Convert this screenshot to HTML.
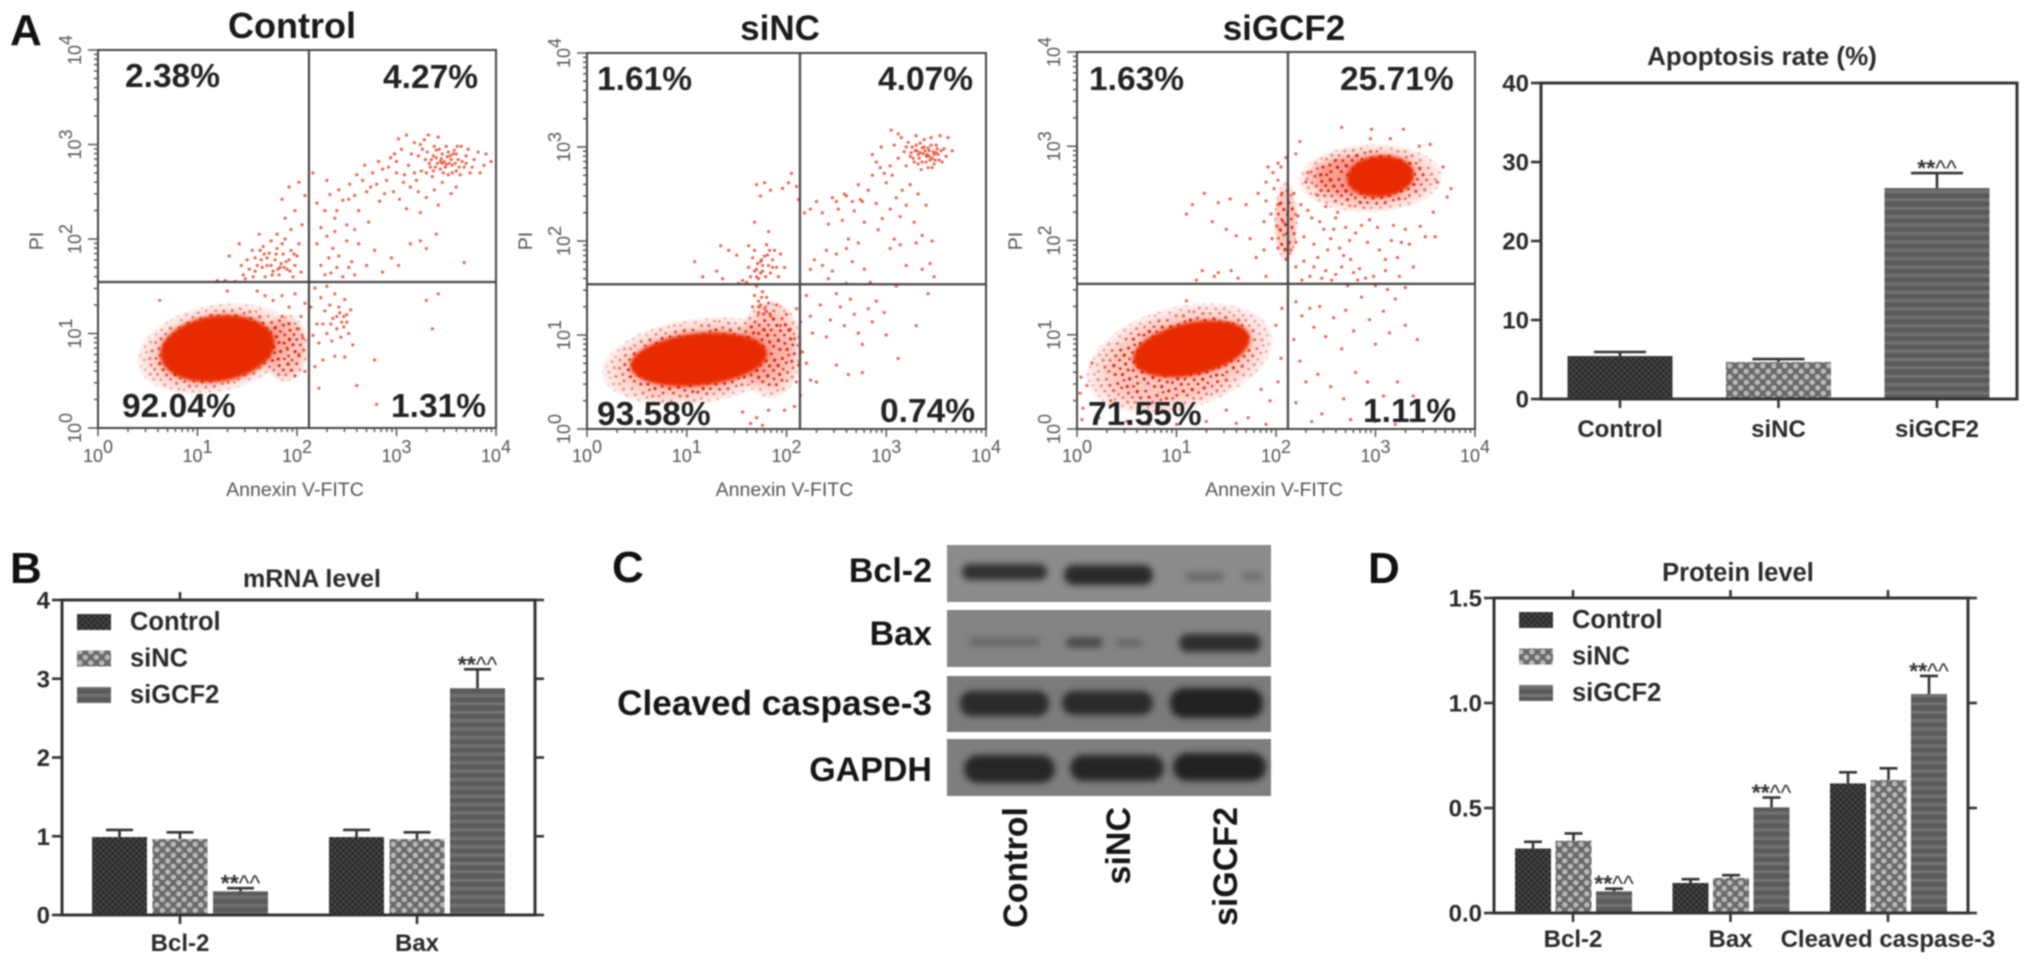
<!DOCTYPE html>
<html lang="en">
<head>
<meta charset="utf-8">
<title>GCF2 apoptosis figure</title>
<style>
html,body{margin:0;padding:0;background:#fff;width:2031px;height:966px;overflow:hidden}
svg{display:block;filter:blur(.7px)}
text{font-family:"Liberation Sans",sans-serif;fill:#222}
.b{font-weight:bold}
.panel{font-size:44px;font-weight:bold;fill:#111}
.ftitle{font-size:35px;font-weight:bold;fill:#1a1a1a;text-anchor:middle}
.pct{font-size:33.5px;font-weight:bold;fill:#222}
.axl{font-size:19.5px;fill:#555}
.ctitle{font-size:25px;font-weight:bold;fill:#2a2a2a;text-anchor:middle}
.blot{font-size:34px;font-weight:bold;fill:#161616}
</style>
</head>
<body>
<svg id="fig" xmlns="http://www.w3.org/2000/svg" width="2031" height="966" viewBox="0 0 2031 966">
<defs>
<pattern id="pat-control" width="6" height="6" patternUnits="userSpaceOnUse"><rect width="6" height="6" fill="#2a2a2a"/><rect width="3" height="3" fill="#454545"/><rect x="3" y="3" width="3" height="3" fill="#454545"/></pattern>
<pattern id="pat-sinc" width="11" height="11" patternUnits="userSpaceOnUse"><rect width="11" height="11" fill="#6a6a6a"/><circle cx="2.8" cy="2.8" r="2.7" fill="#b8b8b8"/><circle cx="8.3" cy="8.3" r="2.7" fill="#b8b8b8"/></pattern>
<pattern id="pat-sigcf2" width="10" height="8.4" patternUnits="userSpaceOnUse"><rect width="10" height="8.4" fill="#5b5b5b"/><rect y="5" width="10" height="3.4" fill="#717171"/></pattern>
<pattern id="speck" width="41" height="37" patternUnits="userSpaceOnUse" patternTransform="rotate(17)"><rect width="41" height="37" fill="#e8280a" fill-opacity=".26"/><g fill="#e2260a"><circle cx="2" cy="3" r="1.6"/><circle cx="8" cy="1" r="1.4"/><circle cx="13" cy="5" r="1.7"/><circle cx="21" cy="2" r="1.4"/><circle cx="26" cy="7" r="1.6"/><circle cx="33" cy="3" r="1.5"/><circle cx="38" cy="6" r="1.4"/><circle cx="5" cy="9" r="1.5"/><circle cx="10" cy="12" r="1.4"/><circle cx="18" cy="10" r="1.6"/><circle cx="31" cy="11" r="1.7"/><circle cx="37" cy="13" r="1.3"/><circle cx="1" cy="15" r="1.4"/><circle cx="7" cy="18" r="1.7"/><circle cx="14" cy="16" r="1.4"/><circle cx="23" cy="14" r="1.5"/><circle cx="28" cy="17" r="1.4"/><circle cx="35" cy="19" r="1.6"/><circle cx="3" cy="23" r="1.5"/><circle cx="12" cy="22" r="1.6"/><circle cx="19" cy="20" r="1.3"/><circle cx="24" cy="24" r="1.7"/><circle cx="31" cy="25" r="1.4"/><circle cx="39" cy="24" r="1.5"/><circle cx="8" cy="28" r="1.4"/><circle cx="16" cy="28" r="1.6"/><circle cx="21" cy="31" r="1.4"/><circle cx="28" cy="32" r="1.5"/><circle cx="35" cy="30" r="1.6"/><circle cx="2" cy="32" r="1.6"/><circle cx="11" cy="34" r="1.4"/><circle cx="38" cy="35" r="1.3"/></g></pattern>
<radialGradient id="fade"><stop offset="0" stop-color="#fff"/><stop offset=".7" stop-color="#fff"/><stop offset="1" stop-color="#333"/></radialGradient>
<filter id="band" x="-30%" y="-80%" width="160%" height="260%"><feGaussianBlur stdDeviation="3.1"/></filter>
<filter id="core" x="-20%" y="-20%" width="140%" height="140%"><feGaussianBlur stdDeviation="1.8"/></filter>
</defs>

<text class="panel" x="10" y="45">A</text>
<text class="panel" x="10" y="583">B</text>
<text class="panel" x="612" y="582">C</text>
<text class="panel" x="1368" y="583">D</text>

<text class="ftitle" x="292" y="38" style="font-size:36px">Control</text>
<text class="ftitle" x="780" y="40">siNC</text>
<text class="ftitle" x="1284" y="40">siGCF2</text>

<g id="flow-layer"></g>

<text class="pct" x="125" y="87">2.38%</text>
<text class="pct" x="383" y="88">4.27%</text>
<text class="pct" x="122" y="417">92.04%</text>
<text class="pct" x="391" y="417">1.31%</text>
<text class="pct" x="597" y="90">1.61%</text>
<text class="pct" x="878" y="90">4.07%</text>
<text class="pct" x="597" y="425">93.58%</text>
<text class="pct" x="880" y="422">0.74%</text>
<text class="pct" x="1089" y="90">1.63%</text>
<text class="pct" x="1340" y="90">25.71%</text>
<text class="pct" x="1088" y="425">71.55%</text>
<text class="pct" x="1363" y="422">1.11%</text>

<text class="ctitle" x="1762" y="65" style="font-size:26px">Apoptosis rate (%)</text>
<text class="ctitle" x="312" y="587">mRNA level</text>
<text class="ctitle" x="1738" y="581" style="font-size:25.5px">Protein level</text>

<g id="bar-layer"></g>

<g>
 <g>
  <rect x="947" y="545" width="324" height="57" fill="#8b8b8b"/>
  <rect x="962" y="564" width="85" height="16" rx="8" fill="#333" filter="url(#band)"/>
  <rect x="1064" y="565" width="89" height="20" rx="10" fill="#2c2c2c" filter="url(#band)"/>
  <rect x="1185" y="572" width="39" height="9" rx="4" fill="#6b6b6b" filter="url(#band)"/>
  <rect x="1242" y="572" width="21" height="9" rx="4" fill="#6f6f6f" filter="url(#band)"/>
 </g>
 <g>
  <rect x="947" y="610" width="324" height="57" fill="#848484"/>
  <rect x="969" y="637" width="71" height="9" rx="4" fill="#686868" filter="url(#band)"/>
  <rect x="1066" y="637" width="37" height="11" rx="5" fill="#4e4e4e" filter="url(#band)"/>
  <rect x="1116" y="639" width="26" height="8" rx="3" fill="#666" filter="url(#band)"/>
  <rect x="1179" y="634" width="82" height="18" rx="9" fill="#2e2e2e" filter="url(#band)"/>
 </g>
 <g>
  <rect x="947" y="676" width="324" height="56" fill="#7b7b7b"/>
  <rect x="960" y="691" width="89" height="25" rx="12" fill="#2a2a2a" filter="url(#band)"/>
  <rect x="1062" y="691" width="91" height="24" rx="12" fill="#2c2c2c" filter="url(#band)"/>
  <rect x="1170" y="688" width="93" height="30" rx="14" fill="#242424" filter="url(#band)"/>
 </g>
 <g>
  <rect x="947" y="739" width="324" height="57" fill="#7e7e7e"/>
  <rect x="964" y="755" width="91" height="28" rx="14" fill="#262626" filter="url(#band)"/>
  <rect x="1070" y="755" width="94" height="26" rx="13" fill="#262626" filter="url(#band)"/>
  <rect x="1173" y="753" width="93" height="28" rx="14" fill="#242424" filter="url(#band)"/>
 </g>
</g>
<text class="blot" x="932" y="582" text-anchor="end">Bcl-2</text>
<text class="blot" x="932" y="645" text-anchor="end">Bax</text>
<text class="blot" x="932" y="715" text-anchor="end" style="font-size:35.2px">Cleaved caspase-3</text>
<text class="blot" x="932" y="781" text-anchor="end">GAPDH</text>
<text class="blot" transform="translate(1027,807) rotate(-90)" text-anchor="end">Control</text>
<text class="blot" transform="translate(1130,807) rotate(-90)" text-anchor="end">siNC</text>
<text class="blot" transform="translate(1237,807) rotate(-90)" text-anchor="end">siGCF2</text>
</svg>

<script>
/* ---------- bar chart data ---------- */
const apoptosisGroups = ["Control", "siNC", "siGCF2"];
const apoptosisValues = [5.44, 4.68, 26.7];
const apoptosisUpper = [5.95, 5.06, 28.6];
const apoptosisTicks = [0, 10, 20, 30, 40];
const apoptosisMarks = ["", "", "**^^"];

const mrnaGroups = ["Bcl-2", "Bax"];
const seriesNames = ["Control", "siNC", "siGCF2"];
const mrnaControl = [0.99, 0.99];
const mrnaSiNC = [0.965, 0.965];
const mrnaSiGCF2 = [0.30, 2.88];
const mrnaControlUpper = [1.08, 1.08];
const mrnaSiNCUpper = [1.05, 1.05];
const mrnaSiGCF2Upper = [0.34, 3.12];
const mrnaTicks = [0, 1, 2, 3, 4];
const mrnaMarks = ["**^^", "**^^"];

const proteinGroups = ["Bcl-2", "Bax", "Cleaved caspase-3"];
const proteinControl = [0.307, 0.143, 0.617];
const proteinSiNC = [0.344, 0.167, 0.633];
const proteinSiGCF2 = [0.103, 0.503, 1.043];
const proteinControlUpper = [0.339, 0.161, 0.67];
const proteinSiNCUpper = [0.379, 0.18, 0.689];
const proteinSiGCF2Upper = [0.116, 0.55, 1.129];
const proteinTicks = ["0.0", "0.5", "1.0", "1.5"];
const proteinMarks = ["**^^", "**^^", "**^^"];

/* ---------- flow cytometry data: [log10 Annexin V, log10 PI] ---------- */
const decadeExponents = [0, 1, 2, 3, 4];
const controlGate = [2.12, 1.545];
const sincGate = [2.135, 1.54];
const sigcf2Gate = [2.12, 1.54];
/* dense populations: centre x, centre y, radius x, radius y (decades), tilt in degrees */
const controlCores = [[1.2, 0.84, 0.58, 0.35, 8]];
const controlHalos = [[1.18, 0.84, 0.8, 0.46, 12], [1.88, 0.85, 0.24, 0.36, 0]];
const sincCores = [[1.12, 0.74, 0.69, 0.28, 6]];
const sincHalos = [[1.1, 0.72, 0.96, 0.45, 8], [1.84, 0.85, 0.32, 0.52, 0]];
const sigcf2Cores = [[1.15, 0.85, 0.6, 0.28, 12], [3.05, 2.68, 0.34, 0.22, 5]];
const sigcf2Halos = [[1.03, 0.75, 0.96, 0.54, 15], [2.95, 2.66, 0.72, 0.36, 2], [2.85, 2.68, 0.54, 0.23, 0], [2.1, 2.2, 0.12, 0.42, 0]];

const controlPoints = [[3.05,2.95],[3.12,2.78],[3.18,3.02],[3.22,2.88],[3.25,2.72],[3.28,3.05],[3.31,2.92],[3.33,2.8],[3.36,2.66],[3.38,2.98],[3.4,2.86],[3.42,3.08],[3.44,2.74],[3.46,2.9],[3.48,2.82],[3.5,2.98],[3.52,2.68],[3.54,2.88],[3.56,2.78],[3.58,2.94],[3.6,2.72],[3.62,2.84],[3.65,2.98],[3.68,2.76],[3.7,2.88],[3.74,2.7],[3.78,2.84],[3.82,2.92],[3.88,2.78],[3.95,2.82],[3.35,2.84],[3.39,2.76],[3.43,2.95],[3.47,2.7],[3.51,2.87],[3.53,2.8],[3.57,2.9],[3.41,2.8],[3.45,2.85],[3.49,2.76],[3.3,2.7],[3.26,2.95],[3.6,2.9],[3.66,2.82],[3.72,2.95],[3.37,2.88],[3.44,2.82],[3.5,2.79],[3.55,2.84],[3.59,2.8],[3.63,2.76],[3.34,2.76],
[3.0,2.82],[3.02,3.06],[3.08,2.68],[3.1,3.1],[3.15,2.9],[3.2,2.62],[3.24,3.0],[3.29,2.84],[3.32,3.1],[3.37,2.72],[3.4,2.94],[3.46,2.8],[3.52,2.92],[3.56,2.7],[3.61,2.98],[3.64,2.68],[3.7,2.8],[3.76,2.76],[3.84,2.7],[3.9,2.9],
[2.2,2.38],[2.28,2.3],[2.33,2.47],[2.38,2.22],[2.42,2.52],[2.46,2.41],[2.5,2.15],[2.53,2.58],[2.58,2.46],[2.62,2.3],[2.66,2.62],[2.7,2.5],[2.72,2.18],[2.76,2.7],[2.8,2.58],[2.83,2.4],[2.86,2.74],[2.9,2.62],[2.94,2.86],[2.97,2.5],[3.0,2.7],[3.03,2.42],[3.07,2.6],[3.1,2.32],[3.14,2.55],[3.18,2.7],[3.22,2.5],[3.24,2.28],[3.3,2.44],[3.38,2.52],[3.42,2.36],[3.46,2.6],[3.55,2.48],[3.6,2.55],[2.08,2.46],[2.02,2.6],[1.92,2.55],[1.85,2.42],[1.98,2.3],[1.88,2.22],[2.05,2.15],[1.8,2.05],[1.94,2.1],[2.2,1.95],[2.3,2.03],[2.36,1.9],[2.42,1.82],[2.5,1.98],[2.55,1.76],[2.62,1.95],[2.7,1.72],[2.78,1.88],[2.86,1.65],[2.95,1.8],[3.02,1.72],[3.14,1.95],[3.24,1.98],[3.3,1.9],[3.4,2.05],[2.24,1.72],[2.34,1.64],[2.46,1.6],[2.58,1.62],[3.68,1.75],[3.3,1.35],[3.42,1.42],[3.36,1.05],
[2.6,2.68],[2.68,2.78],[2.74,2.55],[2.82,2.82],[2.88,2.48],[2.92,2.76],[2.98,2.9],[2.52,2.42],[2.4,2.3],[2.3,2.62],[2.24,2.12],[2.16,2.7],[2.32,1.8],[2.4,1.7],[2.28,1.62],[2.52,1.7],[2.38,2.08],[2.58,2.1],
[1.32,1.82],[1.42,1.95],[1.46,1.62],[1.5,1.78],[1.55,1.88],[1.58,1.66],[1.62,2.05],[1.64,1.78],[1.66,1.92],[1.68,1.6],[1.7,1.72],[1.72,1.85],[1.74,1.98],[1.76,1.66],[1.78,1.78],[1.8,1.9],[1.82,1.62],[1.84,1.74],[1.86,1.84],[1.88,2.0],[1.9,1.68],[1.92,1.78],[1.94,1.88],[1.96,1.6],[1.98,1.72],[2.0,1.82],[2.02,1.95],[2.04,1.65],[1.6,1.72],[1.67,1.84],[1.74,1.72],[1.81,1.68],[1.87,1.7],[1.56,1.6],[1.48,1.58],[1.38,1.55],[1.28,1.56],[1.2,1.56],
[1.65,1.7],[1.7,1.8],[1.75,1.62],[1.79,1.84],[1.83,1.7],[1.85,1.95],[1.89,1.76],[1.93,1.66],[1.97,1.84],[1.63,1.88],[1.58,1.8],[1.52,1.68],[1.44,1.72],
[2.18,1.48],[2.24,1.38],[2.28,1.24],[2.3,1.5],[2.33,1.3],[2.36,1.16],[2.38,1.42],[2.4,1.05],[2.42,1.28],[2.44,0.96],[2.47,1.18],[2.48,1.36],[2.5,1.12],[2.52,1.0],[2.54,1.25],[2.56,0.88],[2.2,1.1],[2.16,0.98],[2.22,0.9],[2.3,1.0],[2.35,0.92],[2.14,1.28],[2.26,0.72],[2.38,0.76],[2.48,0.75],[2.78,0.72],[2.6,0.45],[2.8,0.25],[2.18,0.65],[2.22,0.42],
[2.4,1.18],[2.45,1.12],[2.47,1.07],[2.43,1.22],[2.5,1.2],[2.34,1.1],[2.26,1.1],
[1.85,1.4],[1.92,1.28],[1.98,1.42],[2.04,1.18],[2.08,1.32],[2.0,1.05],[2.06,0.95],[1.9,0.85],[1.95,0.72],[2.02,0.78],[2.08,0.6],[1.98,0.55],[1.85,1.18],[1.76,1.35],[1.68,1.4],[1.6,1.45],[1.3,1.45],[0.62,1.35]];

const sincPoints = [[3.08,3.02],[3.12,2.88],[3.15,3.1],[3.18,2.95],[3.2,2.8],[3.22,3.05],[3.24,2.9],[3.26,3.0],[3.28,2.84],[3.3,3.12],[3.31,2.96],[3.33,2.88],[3.34,3.04],[3.35,2.76],[3.37,2.93],[3.38,3.08],[3.4,2.84],[3.42,2.99],[3.43,2.9],[3.45,3.1],[3.46,2.78],[3.47,2.95],[3.49,2.86],[3.5,3.02],[3.52,2.92],[3.54,3.12],[3.56,2.84],[3.58,2.98],[3.6,2.9],[3.62,3.1],[3.66,2.96],[3.32,2.92],[3.36,2.99],[3.39,2.96],[3.41,2.92],[3.44,2.86],[3.48,2.92],[3.51,2.98],[3.29,2.96],[3.25,2.94],
[3.3,3.02],[3.34,2.94],[3.36,2.84],[3.38,3.0],[3.4,2.9],[3.43,2.96],[3.45,3.02],[3.46,2.88],[3.48,2.82],[3.5,2.94],[3.53,2.86],[3.55,2.96],[3.27,2.88],[3.32,2.82],[3.42,2.78],[3.2,3.0],[3.12,3.14],[3.05,3.18],[2.95,3.0],[2.86,2.92],[2.9,2.84],[2.98,2.72],[3.04,2.8],
[2.18,2.3],[2.24,2.34],[2.3,2.42],[2.36,2.3],[2.42,2.18],[2.46,2.46],[2.52,2.34],[2.56,2.22],[2.6,2.48],[2.62,2.02],[2.68,2.32],[2.72,2.6],[2.76,2.42],[2.78,2.2],[2.82,2.54],[2.86,2.7],[2.9,2.4],[2.94,2.78],[2.96,2.24],[3.0,2.62],[3.04,2.34],[3.06,2.7],[3.1,2.46],[3.14,2.26],[3.16,2.54],[3.2,2.38],[3.24,2.6],[3.28,2.2],[3.32,2.5],[3.36,2.06],[3.4,2.38],[2.5,2.42],[2.58,2.5],[2.66,2.42],[2.74,2.44],
[2.92,2.12],[3.08,2.02],[3.04,1.92],[3.14,1.96],[3.2,1.74],[3.3,1.98],[3.36,1.7],[3.44,1.76],[3.46,2.0],[3.48,1.62],[2.66,1.78],[2.6,1.55],[2.5,1.86],[2.46,1.68],[2.4,1.9],[2.36,1.74],[2.28,1.8],[2.42,1.6],[2.24,1.7],[2.6,1.92],[2.72,1.98],[2.78,1.7],[2.84,1.56],
[1.7,2.6],[1.78,2.62],[1.74,2.48],[1.84,2.54],[1.68,2.2],[1.62,1.95],[1.75,1.8],[1.82,2.1],[2.02,2.62],[2.05,2.72],[2.1,2.58],[1.96,2.56],[2.12,2.44],[1.34,1.95],[1.42,1.9],[1.5,1.85],[1.08,1.78],[1.16,1.62],[1.3,1.68],[1.36,1.6],
[1.62,1.72],[1.64,1.62],[1.66,1.82],[1.68,1.9],[1.7,1.7],[1.72,1.6],[1.74,1.78],[1.76,1.68],[1.78,1.84],[1.8,1.96],[1.82,1.74],[1.84,1.66],[1.86,1.8],[1.88,1.9],[1.9,1.72],[1.92,1.62],[1.94,1.86],[1.98,1.72],[1.6,1.56],[1.56,1.58],[1.52,1.55],[1.7,1.52],[1.76,1.46],[1.72,1.36],[1.68,1.42],[1.78,1.28],[1.72,1.24],[1.66,1.3],[1.8,1.4],[1.84,1.2],[1.9,1.32],[1.94,1.1],[2.0,1.22],[2.04,1.06],[2.08,0.96],[2.1,1.28],[2.14,1.14],[2.16,0.82],[2.12,0.68],[2.1,0.5],[2.14,0.36],[2.08,0.24],
[1.76,1.74],[1.79,1.62],[1.81,1.85],[1.83,1.9],[1.74,1.66],[1.71,1.76],[1.7,1.62],[1.68,1.68],[1.86,1.72],[1.75,1.4],[1.74,1.32],[1.72,1.3],[1.8,1.25],[1.82,1.34],
[2.2,1.42],[2.24,1.2],[2.26,1.02],[2.34,1.32],[2.4,0.98],[2.44,1.16],[2.5,1.44],[2.54,1.3],[2.58,1.1],[2.64,1.38],[2.68,1.22],[2.72,1.02],[2.76,0.9],[2.82,1.28],[2.86,1.14],[2.9,1.36],[2.98,1.24],[3.0,1.0],[3.1,1.52],[3.12,0.75],[3.3,1.1],[3.42,1.44],[2.5,0.68],[2.62,0.58],[2.76,0.6],[2.2,0.7],[2.24,0.52],[2.3,0.5],
[1.56,0.18],[1.7,0.12],[1.82,0.2],[1.98,0.2],[1.64,0.06],[1.76,0.04]];

const sigcf2Points = [[2.24,3.05],[2.66,3.2],[2.96,3.18],[3.28,3.18],[2.95,3.08],[2.2,2.92],[2.32,2.72],[2.1,2.88],[2.02,2.82],[1.92,2.78],[2.02,2.64],[1.98,2.55],[2.06,2.5],[1.9,2.42],[1.82,2.5],[1.7,2.38],[1.54,2.44],[1.42,2.4],[1.28,2.5],[1.1,2.28],[1.16,2.38],[1.36,2.2],[1.6,2.05],[1.5,2.12],[1.74,2.02],[1.88,2.2],[1.95,2.28],[2.02,2.38],[2.07,2.2],[2.12,2.3],[2.04,2.12],[1.96,2.02],[1.88,1.9],[1.8,1.82],[2.02,1.92],[2.1,1.8],[2.08,2.06],[1.9,2.62],[1.97,2.72],[2.05,2.78],
[2.18,2.5],[2.25,2.38],[2.3,2.62],[2.36,2.24],[2.42,2.48],[2.48,2.12],[2.5,2.36],[2.55,2.02],[2.6,2.24],[2.64,1.92],[2.7,2.14],[2.75,1.8],[2.8,2.08],[2.84,1.7],[2.92,1.98],[2.98,1.62],[3.04,1.9],[3.1,1.68],[3.16,2.0],[3.22,1.82],[3.3,2.12],[3.38,1.72],[3.5,2.04],[2.2,1.98],[2.28,1.78],[2.34,1.62],[2.42,1.82],[2.5,1.68],[2.56,1.58],[2.66,1.72],[2.72,1.52],[2.82,1.58],[2.9,1.6],[3.0,1.52],[3.12,1.48],[3.24,1.62],[3.3,1.5],
[2.16,2.14],[2.22,2.26],[2.28,2.04],[2.32,2.32],[2.38,1.96],[2.44,2.2],[2.52,1.9],[2.58,2.12],[2.62,2.3],[2.68,1.84],[2.74,2.0],[2.86,2.16],[2.94,2.22],[3.02,2.14],[3.1,1.8],[3.18,2.16],[3.26,1.98],[3.34,1.96],[2.15,1.9],[2.2,1.72],[2.26,1.58],[2.38,1.72],[2.46,1.6],[2.6,1.64],[2.78,1.66],
[2.2,1.35],[2.26,1.2],[2.34,1.28],[2.38,1.08],[2.44,1.3],[2.5,0.98],[2.58,1.18],[2.66,0.85],[2.7,1.26],[2.78,1.04],[2.86,1.4],[2.94,1.16],[3.0,0.9],[3.08,1.25],[3.14,1.02],[3.2,1.38],[3.3,1.1],[3.42,0.95],[2.18,0.95],[2.24,0.72],[2.3,0.5],[2.42,0.58],[2.55,0.45],[2.68,0.32],[2.8,0.6],[2.92,0.5],[3.08,0.35],[3.22,0.5],[3.38,0.35],[2.2,0.28],[2.46,0.16],[2.75,0.1],[3.0,0.08],[3.2,0.05],[2.36,0.08],
[3.62,2.62],[3.68,2.78],[3.72,2.46],[3.58,2.3],[3.45,2.15],[3.6,2.04],[3.76,2.55],[3.55,3.02],[3.44,3.0],[3.15,3.08],
[0.04,0.55],[0.03,0.38],[0.06,0.22],[0.1,0.46],[0.15,0.7],[0.05,0.1],[0.22,0.12],[0.34,0.3],[0.5,0.08],[0.72,0.05],[1.0,0.05],[1.3,0.08],[1.5,0.2],[1.6,0.06],[1.72,0.12],[1.9,0.05],[1.94,0.3],[1.85,0.42],[2.02,0.5],[2.05,0.75],[2.0,1.1],[2.06,1.28],[1.1,1.36],[1.55,1.68],[1.62,1.6],[1.9,1.62],[1.42,1.66],[1.26,1.68],[1.2,1.58],[1.38,1.62]];

/* ---------- drawing helpers ---------- */
const SVGNS = 'http://www.w3.org/2000/svg';
function mk(tag, attrs, parent, txt) {
  const e = document.createElementNS(SVGNS, tag);
  for (const k in attrs) e.setAttribute(k, attrs[k]);
  if (txt !== undefined) e.textContent = txt;
  parent.appendChild(e);
  return e;
}
const AXIS = '#333';

/* ---------- flow plots ---------- */
function drawFlow(layer, key, box, gate, cores, halos, points) {
  const g = mk('g', {}, layer);
  
  
  const xs = d => box.l + d * (box.r - box.l) / 4;
  const ys = d => box.b - d * (box.b - box.t) / 4;

  halos.forEach((h, i) => {
    const tf = 'rotate(' + (-h[4]) + ' ' + xs(h[0]) + ' ' + ys(h[1]) + ')';
    const m = mk('mask', {id: key + '-halo-mask-' + i}, g);
    mk('ellipse', {cx: xs(h[0]), cy: ys(h[1]), rx: h[2] * 99.5, ry: h[3] * 94.5, fill: 'url(#fade)', transform: tf}, m);
    const haloRect = mk('rect', {x: box.l, y: box.t, width: box.r - box.l, height: box.b - box.t, fill: 'url(#speck)', mask: 'url(#' + key + '-halo-mask-' + i + ')'}, g);
    
    
  });
  cores.forEach(c => {
    const core = mk('ellipse', {cx: xs(c[0]), cy: ys(c[1]), rx: c[2] * 99.5, ry: c[3] * 94.5, fill: '#e82a00', filter: 'url(#core)', transform: 'rotate(' + (-c[4]) + ' ' + xs(c[0]) + ' ' + ys(c[1]) + ')'}, g);
    
    
  });
  points.forEach(p => {
    const dot = mk('circle', {cx: xs(p[0]), cy: ys(p[1]), r: 1.6, fill: '#e5300f', 'fill-opacity': .75}, g);
    
    
  });

  const frame = mk('rect', {x: box.l, y: box.t, width: box.r - box.l, height: box.b - box.t, fill: 'none', stroke: '#444', 'stroke-width': 2}, g);
  
  
  const gv = mk('line', {x1: xs(gate[0]), x2: xs(gate[0]), y1: box.t, y2: box.b, stroke: '#444', 'stroke-width': 2.2}, g);
  
  
  const gh = mk('line', {x1: box.l, x2: box.r, y1: ys(gate[1]), y2: ys(gate[1]), stroke: '#444', 'stroke-width': 2.2}, g);
  
  

  let dx = '', dy = '';
  decadeExponents.forEach(d => {
    dx += 'M' + xs(d) + ' ' + box.b + 'v8';
    dy += 'M' + box.l + ' ' + ys(d) + 'h-10';
    if (d < 4) for (let m = 2; m < 10; m++) {
      const o = d + Math.log10(m);
      dx += 'M' + xs(o) + ' ' + box.b + 'v4';
      dy += 'M' + box.l + ' ' + ys(o) + 'h-4';
    }
  });
  const tx = mk('path', {d: dx, stroke: '#555', 'stroke-width': 1.5, fill: 'none'}, g);
  
  
  const ty = mk('path', {d: dy, stroke: '#555', 'stroke-width': 1.5, fill: 'none'}, g);
  
  

  decadeExponents.forEach(d => {
    const lx = mk('text', {x: xs(d), y: 462, 'text-anchor': 'middle', 'font-size': 18, style: 'fill:#555'}, g);
    
    
    mk('tspan', {}, lx, '10');
    mk('tspan', {dy: -9}, lx, String(d));
    const ly = mk('text', {transform: 'translate(' + (box.l - 17) + ',' + ys(d) + ') rotate(-90)', 'text-anchor': 'middle', 'font-size': 18, style: 'fill:#555'}, g);
    
    
    mk('tspan', {}, ly, '10');
    mk('tspan', {dy: -9}, ly, String(d));
  });
  const xt = mk('text', {x: (box.l + box.r) / 2 - 2, y: 496, 'text-anchor': 'middle', class: 'axl'}, g, 'Annexin V-FITC');
  
  
  const yt = mk('text', {transform: 'translate(' + (box.l - 55) + ',241) rotate(-90)', 'text-anchor': 'middle', class: 'axl'}, g, 'PI');
  
  
}

const flowLayer = document.getElementById('flow-layer');
drawFlow(flowLayer, 'control', {l: 98, r: 496, t: 50, b: 428}, controlGate, controlCores, controlHalos, controlPoints);
drawFlow(flowLayer, 'sinc', {l: 587, r: 986, t: 53, b: 429}, sincGate, sincCores, sincHalos, sincPoints);
drawFlow(flowLayer, 'sigcf2', {l: 1077, r: 1475, t: 52, b: 429}, sigcf2Gate, sigcf2Cores, sigcf2Halos, sigcf2Points);

/* ---------- bar charts ---------- */
const patternBySeries = ['url(#pat-control)', 'url(#pat-sinc)', 'url(#pat-sigcf2)'];

function drawBars(layer, cfg) {
  const g = mk('g', {}, layer);
  
  
  const y = v => cfg.b - (v - cfg.min) * (cfg.b - cfg.t) / (cfg.max - cfg.min);

  cfg.series.forEach((s, si) => {
    s.values.forEach((v, gi) => {
      const cx = cfg.groupX(gi, si);
      const rect = mk('rect', {x: cx - cfg.barW / 2, y: y(v), width: cfg.barW, height: cfg.b - y(v), fill: patternBySeries[s.pattern]}, g);
      
      
      const eb = mk('path', {d: 'M' + cx + ' ' + y(v) + 'V' + y(s.upper[gi]) + 'M' + (cx - cfg.capW / 2) + ' ' + y(s.upper[gi]) + 'h' + cfg.capW, stroke: '#333', 'stroke-width': 2.6, fill: 'none'}, g);
      
      
      if (s.marks && s.marks[gi]) {
        const t = mk('text', {x: cx, y: y(s.upper[gi]) + 3, 'text-anchor': 'middle', 'font-size': 23, style: 'fill:#333'}, g);
        
        
        mk('tspan', {'font-weight': 'bold'}, t, s.marks[gi].slice(0, 2));
        mk('tspan', {}, t, s.marks[gi].slice(2));
      }
    });
  });

  const axis = mk('path', {d: 'M' + cfg.l + ' ' + cfg.t + 'H' + cfg.r + 'V' + cfg.b + 'H' + cfg.l + 'Z', stroke: AXIS, 'stroke-width': 3, fill: 'none'}, g);
  
  

  cfg.ticks.forEach(tk => {
    const v = parseFloat(tk);
    const lt = mk('line', {x1: cfg.l - 10, x2: cfg.l, y1: y(v), y2: y(v), stroke: AXIS, 'stroke-width': 2.6}, g);
    
    
    if (cfg.rightTicks) {
      const rt = mk('line', {x1: cfg.r, x2: cfg.r + 9, y1: y(v), y2: y(v), stroke: AXIS, 'stroke-width': 2.6}, g);
      
      
    }
    const lb = mk('text', {x: cfg.l - 12, y: y(v) + 8.5, 'text-anchor': 'end', class: 'b', 'font-size': 24, style: 'fill:#2a2a2a'}, g, String(tk));
    
    
  });

  cfg.groups.forEach((name, gi) => {
    const cx = cfg.tickX(gi);
    const bt = mk('line', {x1: cx, x2: cx, y1: cfg.b, y2: cfg.b + 9, stroke: AXIS, 'stroke-width': 2.6}, g);
    
    
    if (cfg.topTicks) {
      const tt = mk('line', {x1: cx, x2: cx, y1: cfg.t, y2: cfg.t - 8, stroke: AXIS, 'stroke-width': 2.6}, g);
      
      
    }
    const xl = mk('text', {x: cx, y: cfg.labelY, 'text-anchor': 'middle', class: 'b', 'font-size': 24, style: 'fill:#2a2a2a'}, g, name);
    
    
  });

  if (cfg.legend) {
    seriesNames.forEach((n, i) => {
      const base = cfg.legend.y + i * 36.5;
      const sw = mk('rect', {x: cfg.legend.x, y: base - 16, width: 34, height: 16, fill: patternBySeries[i]}, g);
      
      
      const lt = mk('text', {x: cfg.legend.x + 53, y: base, class: 'b', 'font-size': 25.5, style: 'fill:#2a2a2a'}, g, n);
      
      
    });
  }
}

const barLayer = document.getElementById('bar-layer');

drawBars(barLayer, {
  key: 'apoptosis', l: 1541, r: 2017, t: 83, b: 399, min: 0, max: 40, barW: 105, capW: 52,
  labelY: 437, ticks: apoptosisTicks, groups: apoptosisGroups,
  tickX: i => 1620 + i * 158.5, groupX: (gi, si) => 1620 + si * 158.5,
  series: [
    {name: 'control', pattern: 0, values: [apoptosisValues[0]], upper: [apoptosisUpper[0]], marks: [apoptosisMarks[0]]},
    {name: 'sinc', pattern: 1, values: [apoptosisValues[1]], upper: [apoptosisUpper[1]], marks: [apoptosisMarks[1]]},
    {name: 'sigcf2', pattern: 2, values: [apoptosisValues[2]], upper: [apoptosisUpper[2]], marks: [apoptosisMarks[2]]}
  ]
});
drawBars(barLayer, {
  key: 'mrna', l: 62, r: 535, t: 600, b: 915, min: 0, max: 4, barW: 55, capW: 27,
  labelY: 951, ticks: mrnaTicks, groups: mrnaGroups, rightTicks: true, topTicks: true,
  legend: {x: 77, y: 630},
  tickX: i => 180 + i * 237, groupX: (gi, si) => 119.5 + gi * 237 + si * 60.5,
  series: [
    {name: 'control', pattern: 0, values: mrnaControl, upper: mrnaControlUpper},
    {name: 'sinc', pattern: 1, values: mrnaSiNC, upper: mrnaSiNCUpper},
    {name: 'sigcf2', pattern: 2, values: mrnaSiGCF2, upper: mrnaSiGCF2Upper, marks: mrnaMarks}
  ]
});
drawBars(barLayer, {
  key: 'protein', l: 1494, r: 1968, t: 598, b: 913, min: 0, max: 1.5, barW: 36, capW: 18,
  labelY: 947, ticks: proteinTicks, groups: proteinGroups, rightTicks: true, topTicks: true,
  legend: {x: 1519, y: 628},
  tickX: i => 1573 + i * 157.5, groupX: (gi, si) => 1533 + gi * 157.5 + si * 40.5,
  series: [
    {name: 'control', pattern: 0, values: proteinControl, upper: proteinControlUpper},
    {name: 'sinc', pattern: 1, values: proteinSiNC, upper: proteinSiNCUpper},
    {name: 'sigcf2', pattern: 2, values: proteinSiGCF2, upper: proteinSiGCF2Upper, marks: proteinMarks}
  ]
});
</script>
</body>
</html>
